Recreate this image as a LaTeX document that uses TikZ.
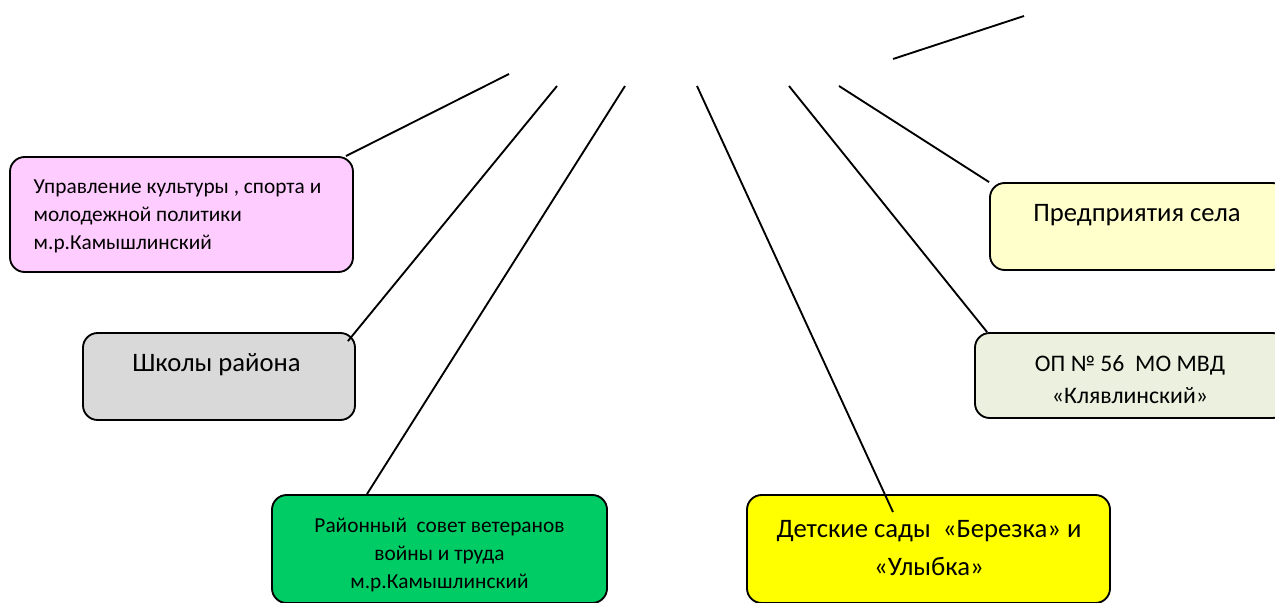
\documentclass[tikz,border=0pt]{standalone}
\usepackage{fontspec}
\setmainfont{Carlito}
\usepackage{tikz}
\definecolor{pinkfill}{HTML}{FFCCFF}
\definecolor{greyfill}{HTML}{D9D9D9}
\definecolor{greenfill}{HTML}{00CC66}
\definecolor{yellowfill}{HTML}{FFFF00}
\definecolor{creamfill}{HTML}{FFFFCC}
\definecolor{palefill}{HTML}{EBF1DE}

\begin{document}
\begin{tikzpicture}[x=0.75pt, y=-0.75pt]
	% formats
	\tikzstyle{cbox} = [draw, rounded corners=11pt, line width=1.4pt, inner sep=0pt]
	\tikzstyle{link} = [line width=1.4pt]
	\tikzstyle{smalltext} = [font=\fontsize{16}{21}\selectfont]
	\tikzstyle{bigtext} = [font=\fontsize{20}{28}\selectfont]
	% frame
	\useasboundingbox (0,0) rectangle (1275,603);
	\clip (0,0) rectangle (1275,603);
	% boxes
	\node [cbox, fill=pinkfill, minimum width=343*0.75pt, minimum height=115*0.75pt] (culture) at (181.5,214.5) {};
	\node [cbox, fill=greyfill, minimum width=272*0.75pt, minimum height=87*0.75pt] (schools) at (219,376.5) {};
	\node [cbox, fill=greenfill, minimum width=335*0.75pt, minimum height=108*0.75pt] (veterans) at (439.5,549) {};
	\node [cbox, fill=yellowfill, minimum width=363*0.75pt, minimum height=108*0.75pt] (kinder) at (928.5,549) {};
	\node [cbox, fill=creamfill, minimum width=297*0.75pt, minimum height=87*0.75pt] (firms) at (1138.5,226.5) {};
	\node [cbox, fill=palefill, minimum width=312*0.75pt, minimum height=85*0.75pt] (police) at (1131,375.5) {};
	% texts
	\node [smalltext, align=left, anchor=west] (culture-t) at (29,216) {Управление культуры , спорта и\\молодежной политики\\м.р.Камышлинский};
	\node [bigtext] (schools-t) at (216.5,365) {Школы района};
	\node [smalltext, align=center] (veterans-t) at (439.5,555) {Районный~ совет ветеранов\\войны и труда\\м.р.Камышлинский};
	\node [bigtext, align=center] (kinder-t) at (929,548) {Детские сады~ «Березка» и\\«Улыбка»};
	\node [bigtext] (firms-t) at (1137,215) {Предприятия села};
	\node [align=center, font=\fontsize{17.8}{24}\selectfont] (police-t) at (1130,380) {ОП № 56~ МО МВД\\«Клявлинский»};
	% top ends
	\coordinate (k1) at (509,74);
	\coordinate (k2) at (557,86);
	\coordinate (k3) at (625,86);
	\coordinate (k4) at (697,86);
	\coordinate (k5) at (789,86);
	\coordinate (k6) at (839,86);
	\coordinate (free-a) at (893,59);
	\coordinate (free-b) at (1024,16);
	% lines
	\draw [link] (k1) -- ([shift={(-8,0)}]culture.north east);
	\draw [link] (k2) -- ([shift={(-8,9)}]schools.north east);
	\draw [link] (k3) -- ([shift={(-72.5,0)}]veterans.north);
	\draw [link] (k4) -- ([shift={(-35.5,18)}]kinder.north);
	\draw [link] (k5) -- ([shift={(13,0)}]police.north west);
	\draw [link] (k6) -- (firms.north west);
	\draw [link] (free-a) -- (free-b);
\end{tikzpicture}
\end{document}
